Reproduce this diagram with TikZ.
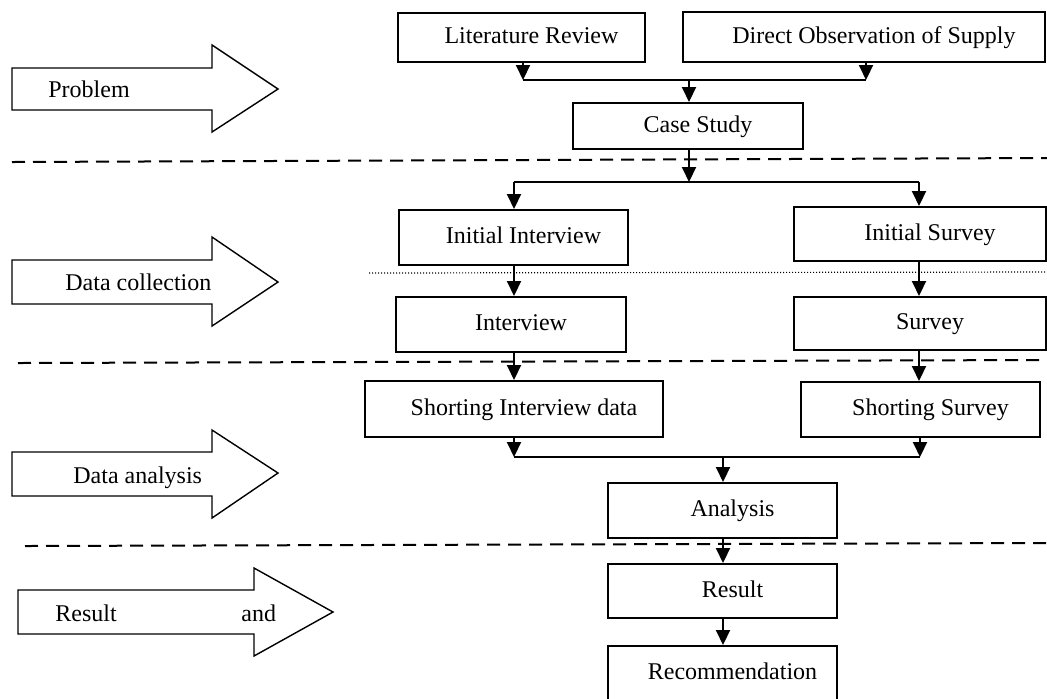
\documentclass[tikz,border=0pt]{standalone}
\usepackage{fontspec}
\setmainfont{Liberation Serif}
\usetikzlibrary{arrows.meta}
\begin{document}
\begin{tikzpicture}[x=0.5pt,y=-0.5pt,
  font=\fontsize{12}{14}\selectfont,
  box/.style={draw, line width=1pt, inner sep=0pt, align=center,
    text height=9pt, text depth=3pt,
    execute at begin node={\hspace*{10pt}}},
  arr/.style={line width=1pt, -{Triangle[width=7pt,length=7.5pt]}},
  conn/.style={line width=1pt},
  sep/.style={line width=1pt, dash pattern=on 6.5pt off 4pt},
  dots/.style={line width=0.6pt, dash pattern=on 0.5pt off 1pt},
  bigarrow/.style={draw, line width=0.7pt, fill=white},
  lbl/.style={inner sep=0pt, anchor=west, text height=9pt, text depth=3pt}
]
\useasboundingbox (0,0) rectangle (1047,698);
\clip (0,0) rectangle (1047,698);

% separators
\draw[sep] (12,162) -- (1047,158);
\draw[sep] (18,363) -- (1047,360);
\draw[sep] (25,546) -- (1047,543);
\draw[dots] (369,273) -- (1047,272);

% left big arrows
\draw[bigarrow] (12,68) -- (212,68) -- (212,45) -- (278,89) -- (212,132) -- (212,110) -- (12,110) -- cycle;
\node[lbl] (tproblem) at (48,91) {Problem};
\draw[bigarrow] (12,260) -- (212,260) -- (212,237) -- (278,282) -- (212,326) -- (212,304) -- (12,304) -- cycle;
\node[lbl] (tcollect) at (65,284) {Data collection};
\draw[bigarrow] (12,452) -- (212,452) -- (212,430) -- (278,473) -- (212,518) -- (212,496) -- (12,496) -- cycle;
\node[lbl] (tanalysis) at (73,477) {Data analysis};
\draw[bigarrow] (18,590) -- (254,590) -- (254,568) -- (333,612) -- (254,656) -- (254,634) -- (18,634) -- cycle;
\node[lbl] (tresult) at (55,615) {Result};
\node[lbl] (tand) at (241,615) {and};

% boxes
\node[box, minimum width=123.5pt, minimum height=24.5pt] (lit) at (521.5,37.5) {Literature Review};
\node[box, minimum width=181pt, minimum height=25pt] (dir) at (864,37) {Direct Observation of Supply};
\node[box, minimum width=115pt, minimum height=23pt] (case) at (688,126) {Case Study};
\node[box, minimum width=114.5pt, minimum height=27.5pt] (ii) at (513.5,237.5) {Initial Interview};
\node[box, minimum width=126pt, minimum height=27pt] (is) at (920,234) {Initial Survey};
\node[box, minimum width=115pt, minimum height=27.5pt] (int) at (511,324.5) {Interview};
\node[box, minimum width=126pt, minimum height=26.5pt] (sur) at (920,323.5) {Survey};
\node[box, minimum width=149pt, minimum height=28pt] (sint) at (514,409) {Shorting Interview data};
\node[box, minimum width=119.5pt, minimum height=27.5pt] (ssur) at (920.5,409.5) {Shorting Survey};
\node[box, minimum width=114.5pt, minimum height=27.5pt] (ana) at (722.5,510.5) {Analysis};
\node[box, minimum width=114.5pt, minimum height=27pt] (res) at (722.5,591) {Result};
\node[box, minimum width=114.5pt, minimum height=27.5pt] (rec) at (722.5,673.5) {Recommendation};

% junction coordinates
\coordinate (j1l) at (523,80);
\coordinate (j1r) at (866,80);
\coordinate (j1) at (689,80);
\coordinate (j2l) at (514,182);
\coordinate (j2r) at (919,182);
\coordinate (j2) at (689,182);
\coordinate (j3l) at (514,457);
\coordinate (j3r) at (920,457);
\coordinate (j3) at (723,457);

% connectors
\draw[arr] (lit.south -| j1l) -- (j1l);
\draw[arr] (dir.south -| j1r) -- (j1r);
\draw[conn] (j1l) -- (j1r);
\draw[arr] (j1) -- (case.north -| j1);

\draw[arr] (case.south -| j2) -- (j2);
\draw[conn] (j2l) -- (j2r);
\draw[arr] (j2l) -- (ii.north -| j2l);
\draw[arr] (j2r) -- (is.north -| j2r);

\draw[arr] (ii.south -| j2l) -- (int.north -| j2l);
\draw[arr] (is.south -| j2r) -- (sur.north -| j2r);
\draw[arr] (int.south -| j3l) -- (sint.north -| j3l);
\draw[arr] (sur.south -| j2r) -- (ssur.north -| j2r);

\draw[arr] (sint.south -| j3l) -- (j3l);
\draw[arr] (ssur.south -| j3r) -- (j3r);
\draw[conn] (j3l) -- (j3r);
\draw[arr] (j3) -- (ana.north -| j3);
\draw[arr] (ana.south -| j3) -- (res.north -| j3);
\draw[arr] (res.south -| j3) -- (rec.north -| j3);
\end{tikzpicture}
\end{document}
